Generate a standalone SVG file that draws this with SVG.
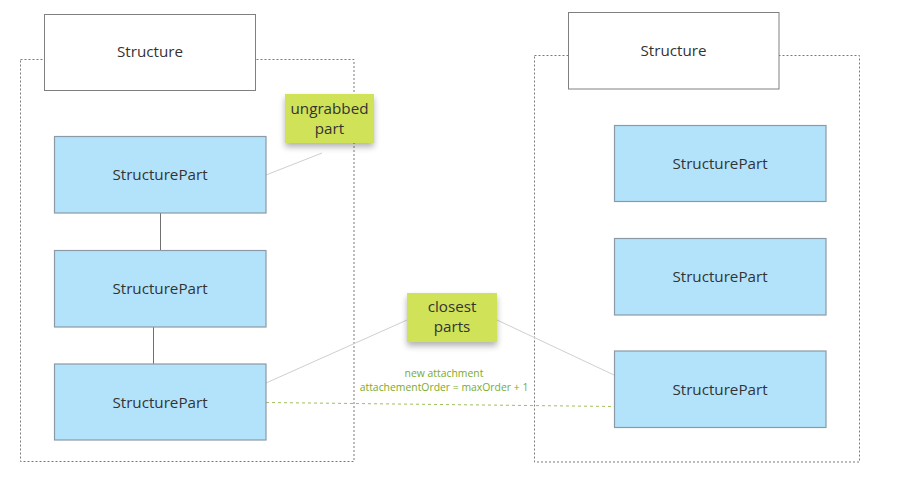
<svg xmlns="http://www.w3.org/2000/svg" width="900" height="480" viewBox="0 0 900 480">
<defs>
<style>
.bg{fill:#ffffff}
.container{fill:none;stroke:#7a7a7a;stroke-width:1;stroke-dasharray:2,2}
.structure{fill:#ffffff;stroke:#808080;stroke-width:1}
.part{fill:#b3e3fb;stroke:#8a9aa6;stroke-width:1.2}
.sticky{fill:#cfe259}
.label{font-family:"Open Sans","Noto Sans","Liberation Sans",sans-serif;font-size:15.2px;fill:#333333;text-anchor:middle}
.stickytext{font-family:"Open Sans","Noto Sans","Liberation Sans",sans-serif;font-size:15.2px;fill:#333333;text-anchor:middle}
.note{font-family:"Open Sans","Noto Sans","Liberation Sans",sans-serif;font-size:10.4px;fill:#7aab2a;text-anchor:middle}
.link{fill:none;stroke:#707070;stroke-width:1}
.thin{fill:none;stroke:#cfcfcf;stroke-width:1}
.attach{fill:none;stroke:#9fbf5c;stroke-width:1;stroke-dasharray:3,3}
</style>
<filter id="shadow" x="-20%" y="-20%" width="140%" height="160%">
<feGaussianBlur in="SourceAlpha" stdDeviation="3"/>
<feOffset dx="0" dy="4" result="b"/>
<feComponentTransfer><feFuncA type="linear" slope="0.3"/></feComponentTransfer>
<feMerge><feMergeNode/><feMergeNode in="SourceGraphic"/></feMerge>
</filter>
</defs>
<rect class="bg" x="0" y="0" width="900" height="480"/>

<g id="containers">
<rect class="container" x="20.5" y="59.5" width="333.5" height="402"/>
<rect class="container" x="534.5" y="55.5" width="325" height="406.5"/>
</g>

<g id="connectors">
<line class="link" x1="160.5" y1="213" x2="160.5" y2="250"/>
<line class="link" x1="153.5" y1="327" x2="153.5" y2="364"/>
<line class="thin" x1="266" y1="175" x2="322" y2="153"/>
<line class="thin" x1="266" y1="383" x2="407" y2="320"/>
<line class="thin" x1="497" y1="320" x2="614" y2="375"/>
<line class="attach" x1="266" y1="402.5" x2="614" y2="406.5"/>
</g>

<g id="structure-left">
<rect class="structure" x="44.5" y="14.5" width="211" height="76"/>
<text class="label" x="150" y="57">Structure</text>
</g>
<g id="structure-right">
<rect class="structure" x="568.5" y="12.5" width="210.5" height="76.5"/>
<text class="label" x="673.5" y="56">Structure</text>
</g>

<g id="part-left-1">
<rect class="part" x="54.5" y="136.5" width="211.5" height="76.5"/>
<text class="label" x="160" y="180">StructurePart</text>
</g>
<g id="part-left-2">
<rect class="part" x="54.5" y="250.5" width="211.5" height="76.5"/>
<text class="label" x="160" y="294">StructurePart</text>
</g>
<g id="part-left-3">
<rect class="part" x="54.5" y="364" width="211.5" height="76"/>
<text class="label" x="160" y="408">StructurePart</text>
</g>
<g id="part-right-1">
<rect class="part" x="614.5" y="125.5" width="211.5" height="76"/>
<text class="label" x="720" y="169">StructurePart</text>
</g>
<g id="part-right-2">
<rect class="part" x="614.5" y="238.5" width="211.5" height="76.5"/>
<text class="label" x="720" y="282">StructurePart</text>
</g>
<g id="part-right-3">
<rect class="part" x="614.5" y="351" width="211.5" height="76.5"/>
<text class="label" x="720" y="395">StructurePart</text>
</g>

<g id="sticky-ungrabbed">
<rect class="sticky" x="285" y="94" width="89" height="49" filter="url(#shadow)"/>
<text class="stickytext" x="329.5" y="113.5">ungrabbed</text>
<text class="stickytext" x="329.5" y="133.5">part</text>
</g>
<g id="sticky-closest">
<rect class="sticky" x="407" y="293" width="90" height="49" filter="url(#shadow)"/>
<text class="stickytext" x="452" y="311.5">closest</text>
<text class="stickytext" x="452" y="331.5">parts</text>
</g>

<g id="attach-label">
<text class="note" x="444" y="377">new attachment</text>
<text class="note" x="444" y="391">attachementOrder = maxOrder + 1</text>
</g>
</svg>
